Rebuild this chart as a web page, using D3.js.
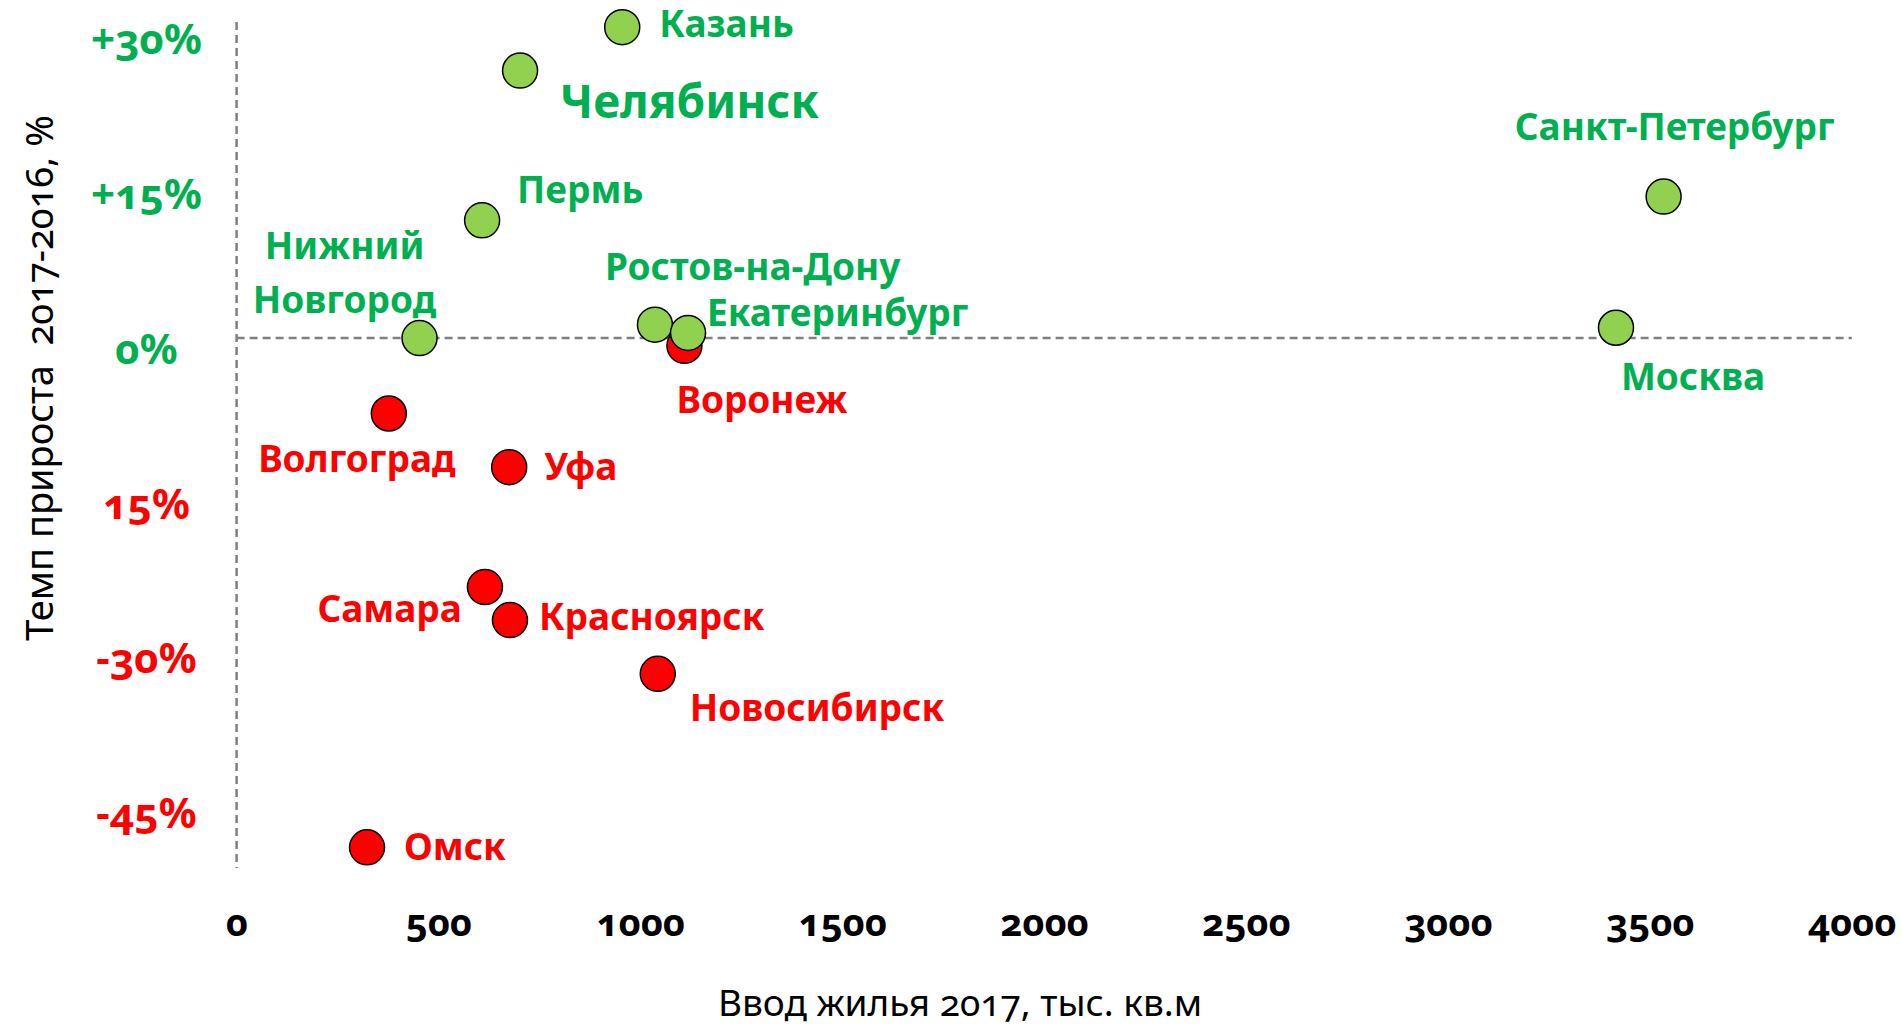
<!DOCTYPE html>
<html>
<head>
<meta charset="utf-8">
<script src="https://cdn.jsdelivr.net/npm/d3@7"></script>
<style>
body { margin: 0; background: #fff; }
svg text { font-family: "Noto Sans", "Open Sans", sans-serif; font-variant-numeric: oldstyle-nums; }
</style>
</head>
<body>
<svg id="chart" width="1901" height="1028"></svg>
<script>
// data
const cities  = ["Волгоград", "Уфа", "Самара", "Красноярск", "Новосибирск", "Омск", "Воронеж",
                 "Казань", "Челябинск", "Пермь", "Нижний Новгород", "Ростов-на-Дону", "Екатеринбург",
                 "Санкт-Петербург", "Москва"]
const housing = [377, 675, 615, 677, 1043, 323, 1109, 955, 702, 608, 453, 1036, 1118, 3534, 3416]
const growth  = [-7.3, -12.5, -24.1, -27.3, -32.5, -49.3, -0.75, 30.1, 25.9, 11.4, 0, 1.3, 0.5, 13.7, 1.0]

const xTicks = [0, 500, 1000, 1500, 2000, 2500, 3000, 3500, 4000]
const yTicks = [30, 15, 0, -15, -30, -45]
const yTickLabels = ["+30%", "+15%", "0%", "15%", "-30%", "-45%"]

const xTitle = "Ввод жилья 2017, тыс. кв.м"
const yTitle = "Темп прироста  2017-2016, %"

// label placement (anchor, dx, dy from point)
const labelPos = {
  "Волгоград": ["middle", -32, 59],
  "Уфа": ["start", 35, 13],
  "Самара": ["end", -23, 35],
  "Красноярск": ["start", 29, 10],
  "Новосибирск": ["start", 32, 47],
  "Омск": ["start", 37, 13],
  "Воронеж": ["start", -8, 67],
  "Казань": ["start", 37, 10],
  "Челябинск": ["start", 40, 47],
  "Пермь": ["start", 35, -17],
  "Нижний Новгород": ["middle", -75, -79],
  "Ростов-на-Дону": ["start", -50, -45],
  "Екатеринбург": ["start", 19, -7],
  "Санкт-Петербург": ["middle", 11, -57],
  "Москва": ["middle", 77, 62]
}

const GREEN = "#00B050", RED = "#FF0000"
const FILL_G = "#92D050", FILL_R = "#FF0000"

const svg = d3.select("#chart")

const x = d3.scaleLinear().domain([0, 4000]).range([236.6, 1851.8])
const y = d3.scaleLinear().domain([-51.3, 30.6]).range([868, 22])

// dashed zero lines
svg.append("line")
  .attr("x1", x(0)).attr("x2", x(0))
  .attr("y1", y(30.6)).attr("y2", y(-51.3))
  .attr("stroke", "#7f7f7f").attr("stroke-width", 2.5).attr("stroke-dasharray", "8,5")
svg.append("line")
  .attr("x1", x(0)).attr("x2", x(4000))
  .attr("y1", y(0)).attr("y2", y(0))
  .attr("stroke", "#7f7f7f").attr("stroke-width", 2.5).attr("stroke-dasharray", "8,5")

// x axis
const gx = svg.append("g")
  .attr("transform", "translate(0,936)")
  .call(d3.axisBottom(x).tickValues(xTicks).tickSize(0).tickPadding(0).tickFormat(d3.format("d")))
gx.select(".domain").remove()
gx.selectAll("text")
  .attr("dy", null).attr("y", 0)
  .attr("fill", "#000").attr("font-size", 38).attr("font-weight", "bold")

// y axis
const gy = svg.append("g")
  .call(d3.axisLeft(y).tickValues(yTicks).tickSize(0).tickFormat((d, i) => yTickLabels[i]))
gy.select(".domain").remove()
gy.selectAll("text")
  .attr("x", 146.5).attr("dy", 25)
  .attr("text-anchor", "middle")
  .attr("font-size", 42).attr("font-weight", "bold")
  .attr("fill", d => d >= 0 ? GREEN : RED)

// axis titles
svg.append("text")
  .attr("x", 960).attr("y", 1016)
  .attr("text-anchor", "middle")
  .attr("font-size", 37).attr("fill", "#000")
  .style("white-space", "pre")
  .text(xTitle)
svg.append("text")
  .attr("transform", "translate(53,378) rotate(-90)")
  .attr("text-anchor", "middle")
  .attr("font-size", 38).attr("fill", "#000")
  .style("white-space", "pre")
  .text(yTitle)

const pts = cities.map((c, i) => ({city: c, hx: housing[i], gr: growth[i]}))
// reds underneath greens
const order = pts.filter(d => d.gr < 0).concat(pts.filter(d => d.gr >= 0))

svg.append("g").selectAll("circle")
  .data(order)
  .enter().append("circle")
  .attr("cx", d => x(d.hx))
  .attr("cy", d => y(d.gr))
  .attr("r", 17.5)
  .attr("fill", d => d.gr >= 0 ? FILL_G : FILL_R)
  .attr("stroke", "#000").attr("stroke-width", 1.5)

const labels = svg.append("g").selectAll("text")
  .data(pts)
  .enter().append("text")
  .attr("x", d => x(d.hx) + labelPos[d.city][1])
  .attr("y", d => y(d.gr) + labelPos[d.city][2])
  .attr("text-anchor", d => labelPos[d.city][0])
  .attr("font-weight", "bold")
  .attr("font-size", d => d.city == "Челябинск" ? 46 : 37)
  .attr("fill", d => d.gr >= 0 ? GREEN : RED)

labels.each(function(d) {
  const parts = d.city.split(" ")
  const t = d3.select(this)
  if (parts.length > 1) {
    parts.forEach((p, k) => {
      t.append("tspan").attr("x", x(d.hx) + labelPos[d.city][1]).attr("dy", k == 0 ? 0 : 54).text(p)
    })
  } else {
    t.text(d.city)
  }
})
</script>
</body>
</html>
